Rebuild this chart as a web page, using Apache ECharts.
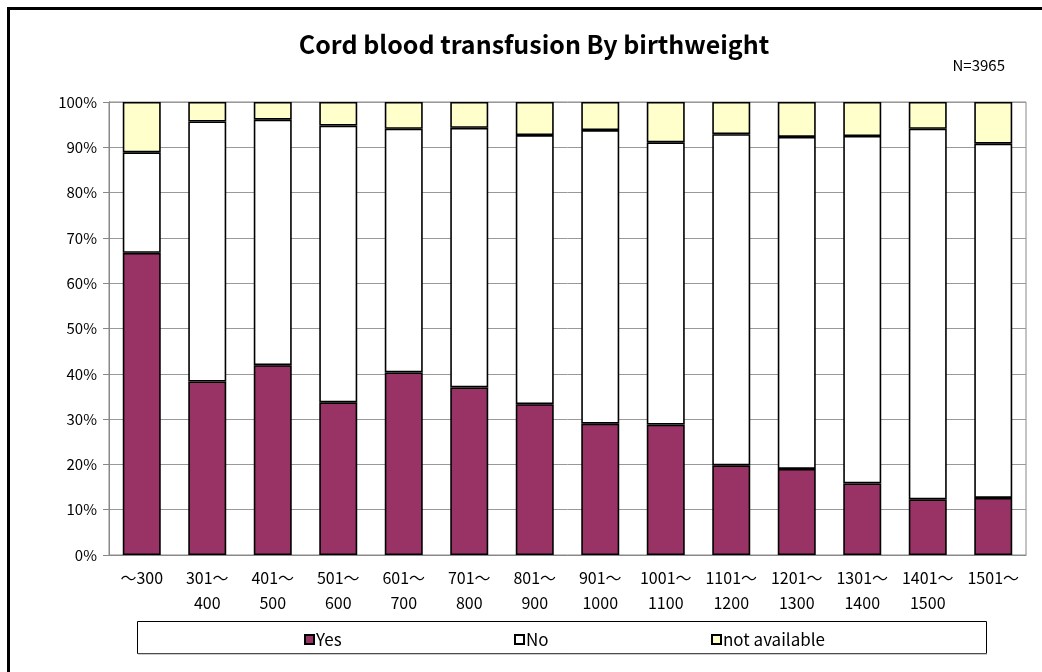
<!DOCTYPE html>
<html>
<head>
<meta charset="utf-8">
<script src="https://cdn.jsdelivr.net/npm/echarts@6/dist/echarts.min.js"></script>
<style>
html,body{margin:0;padding:0;background:#fff;}
#chart{width:1042px;height:672px;}
</style>
</head>
<body>
<div id="chart"></div>
<script>
const categories = ['～300','301～\n400','401～\n500','501～\n600','601～\n700','701～\n800','801～\n900','901～\n1000','1001～\n1100','1101～\n1200','1201～\n1300','1301～\n1400','1401～\n1500','1501～'];
const yesValues = [66.7, 38.3, 41.9, 33.7, 40.3, 37.0, 33.3, 29.0, 28.8, 19.8, 19.0, 15.8, 12.3, 12.6];
const noValues  = [22.2, 57.4, 54.2, 61.1, 53.8, 57.3, 59.4, 64.8, 62.3, 73.1, 73.3, 76.7, 81.8, 78.2];
const naValues  = [11.1, 4.3, 3.9, 5.2, 5.9, 5.7, 7.3, 6.2, 8.9, 7.1, 7.7, 7.5, 5.9, 9.2];
const seriesNames = ['Yes','No','not available'];
const titleText = 'Cord blood transfusion By birthweight';
const noteText = 'N=3965';

const FONT = '"Noto Sans CJK JP", "Noto Sans", sans-serif';
const chart = echarts.init(document.getElementById('chart'));
const barStyle = (c) => ({color: c, borderColor: '#000', borderWidth: 1.6});
const legendCommon = {
  top: 626, icon: 'rect', itemWidth: 9, itemHeight: 9, itemGap: 0,
  textStyle: {fontFamily: FONT, fontSize: 17, color: '#000', padding: [0,0,0,-3]},
  itemStyle: {borderColor: '#000', borderWidth: 2}, selectedMode: false
};
chart.setOption({
  animation: false,
  backgroundColor: '#fff',
  title: [
    {text: titleText, left: 529, top: 27, textAlign: 'center',
     textStyle: {fontFamily: FONT, fontSize: 25, fontWeight: 'bold', color: '#000'}},
    {text: noteText, right: 32, top: 53,
     textStyle: {fontFamily: FONT, fontSize: 15, fontWeight: 'normal', color: '#000'}}
  ],
  graphic: [
    {type: 'rect', shape: {x: 8.5, y: 8.5, width: 1200, height: 800}, style: {fill: 'none', stroke: '#000', lineWidth: 3}, silent: true},
    {type: 'rect', shape: {x: 137.5, y: 621.5, width: 849, height: 32}, style: {fill: 'none', stroke: '#000', lineWidth: 1}, silent: true, z: -1},
    {type: 'line', shape: {x1: 138, y1: 654, x2: 987, y2: 654}, style: {stroke: '#999', lineWidth: 1}, silent: true}
  ],
  legend: [
    Object.assign({}, legendCommon, {left: 299, data: [seriesNames[0]]}),
    Object.assign({}, legendCommon, {left: 509, data: [seriesNames[1]]}),
    Object.assign({}, legendCommon, {left: 706, data: [seriesNames[2]]})
  ],
  grid: {left: 109, right: 16, top: 102, bottom: 117, show: true, borderColor: '#888', borderWidth: 1, backgroundColor: '#fff'},
  xAxis: {
    type: 'category', data: categories,
    axisLine: {lineStyle: {color: '#888', width: 1}},
    axisTick: {inside: true, length: 5, lineStyle: {color: '#888'}},
    axisLabel: {fontFamily: FONT, fontSize: 16, color: '#000', margin: 10, lineHeight: 25, interval: 0}
  },
  yAxis: {
    type: 'value', min: 0, max: 100, interval: 10,
    axisLine: {show: true, lineStyle: {color: '#888'}},
    axisTick: {show: true, length: 6, lineStyle: {color: '#888'}},
    axisLabel: {formatter: '{value}%', fontFamily: FONT, fontSize: 15, color: '#000', margin: 12},
    splitLine: {lineStyle: {color: '#999', width: 1}}
  },
  series: [
    {name: seriesNames[0], type: 'bar', stack: 'total', data: yesValues, barWidth: '58%', itemStyle: barStyle('#993366')},
    {name: seriesNames[1], type: 'bar', stack: 'total', data: noValues, barWidth: '58%', itemStyle: barStyle('#FFFFFF')},
    {name: seriesNames[2], type: 'bar', stack: 'total', data: naValues, barWidth: '58%', itemStyle: barStyle('#FFFFCC')}
  ]
});
</script>
</body>
</html>
